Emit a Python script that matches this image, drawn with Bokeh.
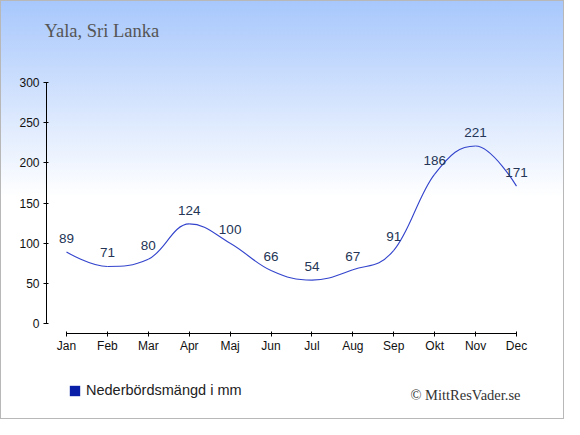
from bokeh.plotting import figure
from bokeh.models import (ColumnDataSource, FixedTicker, Range1d, Label, LabelSet,
                          Legend, LegendItem)
from bokeh.core.properties import value
from bokeh.embed import file_html
from bokeh.resources import INLINE

months = ["Jan", "Feb", "Mar", "Apr", "Maj", "Jun", "Jul", "Aug", "Sep", "Okt", "Nov", "Dec"]
precip = [89, 71, 80, 124, 100, 66, 54, 67, 91, 186, 221, 171]
y_ticks = [0, 50, 100, 150, 200, 250, 300]
title_text = "Yala, Sri Lanka"
legend_text = "Nederbördsmängd i mm"
credit_text = "© MittResVader.se"

xs = list(range(len(months)))

# spline control points (Highcharts-like smoothing), derived from the data
n = len(xs)
lc = [(xs[i], precip[i]) for i in range(n)]
rc = [(xs[i], precip[i]) for i in range(n)]
s = 1.5
for i in range(1, n - 1):
    x, y = xs[i], precip[i]
    lx, ly = xs[i - 1], precip[i - 1]
    nx, ny = xs[i + 1], precip[i + 1]
    lcx = (s * x + lx) / (s + 1)
    lcy = (s * y + ly) / (s + 1)
    rcx = (s * x + nx) / (s + 1)
    rcy = (s * y + ny) / (s + 1)
    corr = (rcy - lcy) * (rcx - x) / (rcx - lcx) + y - rcy
    lcy += corr
    rcy += corr
    if lcy > ly and lcy > y:
        lcy = max(ly, y)
        rcy = 2 * y - lcy
    elif lcy < ly and lcy < y:
        lcy = min(ly, y)
        rcy = 2 * y - lcy
    if rcy > ny and rcy > y:
        rcy = max(ny, y)
        lcy = 2 * y - rcy
    elif rcy < ny and rcy < y:
        rcy = min(ny, y)
        lcy = 2 * y - rcy
    lc[i] = (lcx, lcy)
    rc[i] = (rcx, rcy)

seg = ColumnDataSource(dict(
    x0=xs[:-1], y0=precip[:-1],
    x1=xs[1:], y1=precip[1:],
    cx0=[rc[i][0] for i in range(n - 1)], cy0=[rc[i][1] for i in range(n - 1)],
    cx1=[lc[i][0] for i in range(1, n)], cy1=[lc[i][1] for i in range(1, n)],
))
src = ColumnDataSource(dict(x=xs, y=precip, lab=[str(v) for v in precip]))

# geometry in figure pixels: the frame covers the whole figure,
# axes are drawn at fixed locations inside it
W, H = 564, 419
jan_px, step_px = 66.0, 450 / 11.0
zero_px, unit_px = 323.0, 241 / 300.0
x_start = -jan_px / step_px
x_end = (W - jan_px) / step_px
y_start = -(H - zero_px) / unit_px
y_end = zero_px / unit_px
yaxis_at = (46 - jan_px) / step_px
xaxis_at = -(333 - zero_px) / unit_px

p = figure(width=W, height=H, output_backend="svg", toolbar_location=None,
           x_range=Range1d(x_start, x_end), y_range=Range1d(y_start, y_end),
           min_border=0, min_border_left=0, min_border_right=0,
           min_border_top=0, min_border_bottom=0)
p.styles = {"background": "linear-gradient(to bottom, #a7c7fc 0%, #ffffff 47%)",
            "box-shadow": "inset 0 0 0 1px #b8b8b8"}
p.border_fill_color = None
p.background_fill_color = None
p.outline_line_color = None
p.grid.visible = False

p.bezier(x0="x0", y0="y0", x1="x1", y1="y1", cx0="cx0", cy0="cy0", cx1="cx1", cy1="cy1",
         source=seg, line_color="#3344cc", line_width=1.1)

# zero-height bars, only used for the legend swatch
sw = p.vbar(x="x", top="y", bottom="y", width=0.01, source=src,
            fill_color="#0a1fa8", line_color=None)

labels = LabelSet(x="x", y="y", text="lab", source=src, text_align="center",
                  text_baseline="alphabetic", y_offset=9,
                  text_font=value("Liberation Sans"), text_font_size="13.5px",
                  text_color="#243556")
p.add_layout(labels)

for ax in (p.xaxis[0], p.yaxis[0]):
    ax.axis_line_color = "#000000"
    ax.major_tick_line_color = "#000000"
    ax.minor_tick_line_color = None
    ax.major_label_text_font = "Liberation Sans"
    ax.major_label_text_font_size = "12px"
    ax.major_label_text_color = "#111111"

p.xaxis.ticker = FixedTicker(ticks=xs)
p.xaxis.major_label_overrides = {i: m for i, m in enumerate(months)}
p.xaxis.bounds = (0, len(months) - 1)
p.xaxis.fixed_location = xaxis_at
p.xaxis.major_tick_out = 3
p.xaxis.major_tick_in = 2
p.xaxis.major_label_standoff = 2

p.yaxis.ticker = FixedTicker(ticks=y_ticks)
p.yaxis.bounds = (0, 300)
p.yaxis.fixed_location = yaxis_at
p.yaxis.major_tick_out = 3
p.yaxis.major_tick_in = 2
p.yaxis.major_label_standoff = 4

p.add_layout(Label(x=44, y=H - 30, x_units="screen", y_units="screen", text=title_text,
                   text_font="Liberation Serif", text_font_size="18.5px", text_color="#555555",
                   text_baseline="alphabetic"))
p.add_layout(Label(x=520, y=H - 394, x_units="screen", y_units="screen", text=credit_text,
                   text_font="Liberation Serif", text_font_size="14.5px", text_color="#333333",
                   text_align="right", text_baseline="alphabetic"))

leg = Legend(items=[LegendItem(label=legend_text, renderers=[sw])],
             location=(68, H - 398), orientation="horizontal",
             padding=0, margin=0, spacing=0, border_line_color=None,
             background_fill_alpha=0, glyph_width=13, glyph_height=13,
             label_standoff=5, label_height=13,
             label_text_font="Liberation Sans", label_text_font_size="14.5px",
             label_text_color="#222222")
p.add_layout(leg)

open("out.html", "w").write(file_html(p, INLINE))
